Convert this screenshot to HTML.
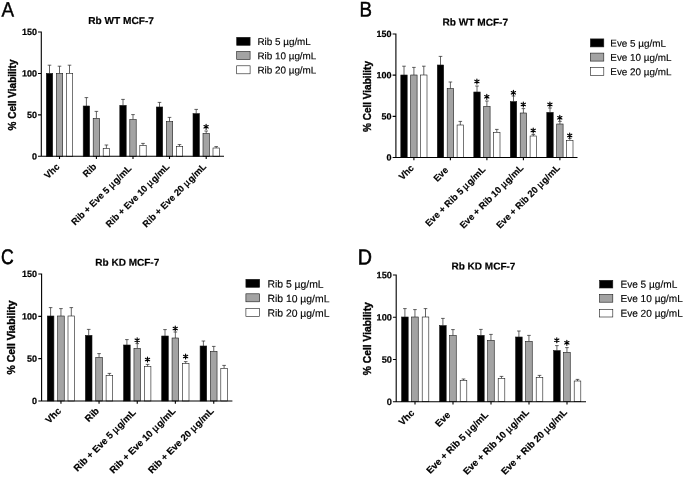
<!DOCTYPE html>
<html><head><meta charset="utf-8"><title>Cell viability</title>
<style>html,body{margin:0;padding:0;background:#fff}svg{display:block;will-change:transform;filter:grayscale(1)}text{font-family:"Liberation Sans",sans-serif;fill:#000}.b{font-weight:bold}.y{stroke:#000;stroke-width:0.35px}.t{stroke:#000;stroke-width:0.2px}.l{stroke:#000;stroke-width:0.15px}.x{stroke:#000;stroke-width:0.18px}</style></head><body>
<svg width="685" height="480" viewBox="0 0 685 480">
<g>
<text font-size="20.7" stroke="#000" stroke-width="0.4" transform="translate(1.6 16.62) rotate(0.1) scale(0.91 1)">A</text>
<text class="b t" font-size="10.1" text-anchor="middle" transform="translate(121.1 24.1) rotate(0.1)">Rb WT MCF-7</text>
<text class="b y" font-size="10" text-anchor="middle" transform="translate(16 95) rotate(-90)">% Cell Viability</text>
<path d="M49.5 73.4V65.2M47.7 65.2H51.3" stroke="#222" stroke-width="0.7" fill="none"/>
<rect x="46.3" y="73.4" width="6.4" height="82.9" fill="#000000" stroke="#1a1a1a" stroke-width="0.6"/>
<path d="M59.5 73.4V66.2M57.7 66.2H61.3" stroke="#222" stroke-width="0.7" fill="none"/>
<rect x="56.3" y="73.4" width="6.4" height="82.9" fill="#a3a3a3" stroke="#1a1a1a" stroke-width="0.6"/>
<path d="M69.5 73.4V65.2M67.7 65.2H71.3" stroke="#222" stroke-width="0.7" fill="none"/>
<rect x="66.3" y="73.4" width="6.4" height="82.9" fill="#ffffff" stroke="#1a1a1a" stroke-width="0.6"/>
<path d="M86.4 106V97.6M84.6 97.6H88.2" stroke="#222" stroke-width="0.7" fill="none"/>
<rect x="83.2" y="106" width="6.4" height="50.3" fill="#000000" stroke="#1a1a1a" stroke-width="0.6"/>
<path d="M96.4 118.4V111.4M94.6 111.4H98.2" stroke="#222" stroke-width="0.7" fill="none"/>
<rect x="93.2" y="118.4" width="6.4" height="37.9" fill="#a3a3a3" stroke="#1a1a1a" stroke-width="0.6"/>
<path d="M106.4 148.6V145M104.6 145H108.2" stroke="#222" stroke-width="0.7" fill="none"/>
<rect x="103.2" y="148.6" width="6.4" height="7.7" fill="#ffffff" stroke="#1a1a1a" stroke-width="0.6"/>
<path d="M123 105.4V99.4M121.2 99.4H124.8" stroke="#222" stroke-width="0.7" fill="none"/>
<rect x="119.8" y="105.4" width="6.4" height="50.9" fill="#000000" stroke="#1a1a1a" stroke-width="0.6"/>
<path d="M133 119.6V114.6M131.2 114.6H134.8" stroke="#222" stroke-width="0.7" fill="none"/>
<rect x="129.8" y="119.6" width="6.4" height="36.7" fill="#a3a3a3" stroke="#1a1a1a" stroke-width="0.6"/>
<path d="M143 145.6V143.4M141.2 143.4H144.8" stroke="#222" stroke-width="0.7" fill="none"/>
<rect x="139.8" y="145.6" width="6.4" height="10.7" fill="#ffffff" stroke="#1a1a1a" stroke-width="0.6"/>
<path d="M159.5 107V102.4M157.7 102.4H161.3" stroke="#222" stroke-width="0.7" fill="none"/>
<rect x="156.3" y="107" width="6.4" height="49.3" fill="#000000" stroke="#1a1a1a" stroke-width="0.6"/>
<path d="M169.5 121.6V117.4M167.7 117.4H171.3" stroke="#222" stroke-width="0.7" fill="none"/>
<rect x="166.3" y="121.6" width="6.4" height="34.7" fill="#a3a3a3" stroke="#1a1a1a" stroke-width="0.6"/>
<path d="M179.5 146.4V144.6M177.7 144.6H181.3" stroke="#222" stroke-width="0.7" fill="none"/>
<rect x="176.3" y="146.4" width="6.4" height="9.9" fill="#ffffff" stroke="#1a1a1a" stroke-width="0.6"/>
<path d="M196.2 113.6V109.4M194.4 109.4H198" stroke="#222" stroke-width="0.7" fill="none"/>
<rect x="193" y="113.6" width="6.4" height="42.7" fill="#000000" stroke="#1a1a1a" stroke-width="0.6"/>
<path d="M206.2 133.4V131M204.4 131H208" stroke="#222" stroke-width="0.7" fill="none"/>
<rect x="203" y="133.4" width="6.4" height="22.9" fill="#a3a3a3" stroke="#1a1a1a" stroke-width="0.6"/>
<path d="M206.1 124.4L206.1 129.3M208.22 125.62L203.98 128.07M208.22 128.07L203.98 125.62" stroke="#000" stroke-width="1.15" stroke-linecap="round" fill="none"/>
<path d="M216.2 148V146.6M214.4 146.6H218" stroke="#222" stroke-width="0.7" fill="none"/>
<rect x="213" y="148" width="6.4" height="8.3" fill="#ffffff" stroke="#1a1a1a" stroke-width="0.6"/>
<path d="M41.3 31.5V156.3H224M41.3 156.3H38M41.3 114.87H38M41.3 73.43H38M41.3 32H38M59.5 156.3V159.1M96.4 156.3V159.1M133 156.3V159.1M169.5 156.3V159.1M206.2 156.3V159.1" stroke="#000" stroke-width="1.1" fill="none"/>
<text class="b t" font-size="9" text-anchor="end" transform="translate(37 159.43) rotate(0.1)">0</text>
<text class="b t" font-size="9" text-anchor="end" transform="translate(37 118) rotate(0.1)">50</text>
<text class="b t" font-size="9" text-anchor="end" transform="translate(37 76.57) rotate(0.1)">100</text>
<text class="b t" font-size="9" text-anchor="end" transform="translate(37 35.13) rotate(0.1)">150</text>
<text class="b x" font-size="9.25" text-anchor="end" transform="translate(60.1 167.3) rotate(-45)">Vhc</text>
<text class="b x" font-size="9.25" text-anchor="end" transform="translate(97 167.3) rotate(-45)">Rib</text>
<text class="b x" font-size="9.25" text-anchor="end" word-spacing="0" transform="translate(132 168.9) rotate(-45)">Rib + Eve 5 <tspan dx="0" font-weight="normal" stroke="#000" stroke-width="0.35">µ</tspan><tspan dx="0.9">g/mL</tspan></text>
<text class="b x" font-size="9.25" text-anchor="end" word-spacing="0" transform="translate(170.1 167.3) rotate(-45)">Rib + Eve 10 <tspan dx="0" font-weight="normal" stroke="#000" stroke-width="0.35">µ</tspan><tspan dx="0.9">g/mL</tspan></text>
<text class="b x" font-size="9.25" text-anchor="end" word-spacing="0" transform="translate(206.8 167.3) rotate(-45)">Rib + Eve 20 <tspan dx="0" font-weight="normal" stroke="#000" stroke-width="0.35">µ</tspan><tspan dx="0.9">g/mL</tspan></text>
<rect x="236.7" y="37.3" width="13.4" height="8" fill="#000000" stroke="#1a1a1a" stroke-width="0.6"/>
<text class="l" font-size="9.9" transform="translate(257.4 45.01) rotate(0.1)">Rib 5 µg/mL</text>
<rect x="236.7" y="51.5" width="13.4" height="8" fill="#a3a3a3" stroke="#1a1a1a" stroke-width="0.6"/>
<text class="l" font-size="9.9" transform="translate(257.4 59.21) rotate(0.1)">Rib 10 µg/mL</text>
<rect x="236.7" y="65.8" width="13.4" height="8" fill="#ffffff" stroke="#1a1a1a" stroke-width="0.6"/>
<text class="l" font-size="9.9" transform="translate(257.4 73.51) rotate(0.1)">Rib 20 µg/mL</text>
</g>
<g>
<text font-size="21.24" stroke="#000" stroke-width="0.5" transform="translate(359.51 16.59) rotate(0.1) scale(0.88 1)">B</text>
<text class="b t" font-size="10.1" text-anchor="middle" transform="translate(475.3 25.65) rotate(0.1)">Rb WT MCF-7</text>
<text class="b y" font-size="10" text-anchor="middle" transform="translate(370.6 96.5) rotate(-90)">% Cell Viability</text>
<path d="M404 75V66.2M402.2 66.2H405.8" stroke="#222" stroke-width="0.7" fill="none"/>
<rect x="400.8" y="75" width="6.4" height="82.5" fill="#000000" stroke="#1a1a1a" stroke-width="0.6"/>
<path d="M413.9 75V67.4M412.1 67.4H415.7" stroke="#222" stroke-width="0.7" fill="none"/>
<rect x="410.7" y="75" width="6.4" height="82.5" fill="#a3a3a3" stroke="#1a1a1a" stroke-width="0.6"/>
<path d="M423.8 75V66.2M422 66.2H425.6" stroke="#222" stroke-width="0.7" fill="none"/>
<rect x="420.6" y="75" width="6.4" height="82.5" fill="#ffffff" stroke="#1a1a1a" stroke-width="0.6"/>
<path d="M440.5 65V56.4M438.7 56.4H442.3" stroke="#222" stroke-width="0.7" fill="none"/>
<rect x="437.3" y="65" width="6.4" height="92.5" fill="#000000" stroke="#1a1a1a" stroke-width="0.6"/>
<path d="M450.4 88.6V82M448.6 82H452.2" stroke="#222" stroke-width="0.7" fill="none"/>
<rect x="447.2" y="88.6" width="6.4" height="68.9" fill="#a3a3a3" stroke="#1a1a1a" stroke-width="0.6"/>
<path d="M460.3 125V121.4M458.5 121.4H462.1" stroke="#222" stroke-width="0.7" fill="none"/>
<rect x="457.1" y="125" width="6.4" height="32.5" fill="#ffffff" stroke="#1a1a1a" stroke-width="0.6"/>
<path d="M477 92V86M475.2 86H478.8" stroke="#222" stroke-width="0.7" fill="none"/>
<rect x="473.8" y="92" width="6.4" height="65.5" fill="#000000" stroke="#1a1a1a" stroke-width="0.6"/>
<path d="M476.9 79L476.9 83.9M479.02 80.22L474.78 82.67M479.02 82.67L474.78 80.22" stroke="#000" stroke-width="1.15" stroke-linecap="round" fill="none"/>
<path d="M486.9 106.4V101M485.1 101H488.7" stroke="#222" stroke-width="0.7" fill="none"/>
<rect x="483.7" y="106.4" width="6.4" height="51.1" fill="#a3a3a3" stroke="#1a1a1a" stroke-width="0.6"/>
<path d="M486.8 94.4L486.8 99.3M488.92 95.62L484.68 98.07M488.92 98.07L484.68 95.62" stroke="#000" stroke-width="1.15" stroke-linecap="round" fill="none"/>
<path d="M496.8 132.4V129.4M495 129.4H498.6" stroke="#222" stroke-width="0.7" fill="none"/>
<rect x="493.6" y="132.4" width="6.4" height="25.1" fill="#ffffff" stroke="#1a1a1a" stroke-width="0.6"/>
<path d="M513.5 101.6V96M511.7 96H515.3" stroke="#222" stroke-width="0.7" fill="none"/>
<rect x="510.3" y="101.6" width="6.4" height="55.9" fill="#000000" stroke="#1a1a1a" stroke-width="0.6"/>
<path d="M513.4 90.4L513.4 95.3M515.52 91.62L511.28 94.07M515.52 94.07L511.28 91.62" stroke="#000" stroke-width="1.15" stroke-linecap="round" fill="none"/>
<path d="M523.4 113V108.6M521.6 108.6H525.2" stroke="#222" stroke-width="0.7" fill="none"/>
<rect x="520.2" y="113" width="6.4" height="44.5" fill="#a3a3a3" stroke="#1a1a1a" stroke-width="0.6"/>
<path d="M523.3 102L523.3 106.9M525.42 103.22L521.18 105.67M525.42 105.67L521.18 103.22" stroke="#000" stroke-width="1.15" stroke-linecap="round" fill="none"/>
<path d="M533.3 136V134.4M531.5 134.4H535.1" stroke="#222" stroke-width="0.7" fill="none"/>
<rect x="530.1" y="136" width="6.4" height="21.5" fill="#ffffff" stroke="#1a1a1a" stroke-width="0.6"/>
<path d="M533.2 128L533.2 132.9M535.32 129.22L531.08 131.67M535.32 131.67L531.08 129.22" stroke="#000" stroke-width="1.15" stroke-linecap="round" fill="none"/>
<path d="M550 112.4V108M548.2 108H551.8" stroke="#222" stroke-width="0.7" fill="none"/>
<rect x="546.8" y="112.4" width="6.4" height="45.1" fill="#000000" stroke="#1a1a1a" stroke-width="0.6"/>
<path d="M549.9 102L549.9 106.9M552.02 103.22L547.78 105.67M552.02 105.67L547.78 103.22" stroke="#000" stroke-width="1.15" stroke-linecap="round" fill="none"/>
<path d="M559.9 124V121.4M558.1 121.4H561.7" stroke="#222" stroke-width="0.7" fill="none"/>
<rect x="556.7" y="124" width="6.4" height="33.5" fill="#a3a3a3" stroke="#1a1a1a" stroke-width="0.6"/>
<path d="M559.8 115.4L559.8 120.3M561.92 116.62L557.68 119.07M561.92 119.07L557.68 116.62" stroke="#000" stroke-width="1.15" stroke-linecap="round" fill="none"/>
<path d="M569.8 140.4V138.4M568 138.4H571.6" stroke="#222" stroke-width="0.7" fill="none"/>
<rect x="566.6" y="140.4" width="6.4" height="17.1" fill="#ffffff" stroke="#1a1a1a" stroke-width="0.6"/>
<path d="M569.7 133L569.7 137.9M571.82 134.22L567.58 136.67M571.82 136.67L567.58 134.22" stroke="#000" stroke-width="1.15" stroke-linecap="round" fill="none"/>
<path d="M395.9 33.5V157.5H577.5M395.9 157.5H392.6M395.9 116.33H392.6M395.9 75.17H392.6M395.9 34H392.6M413.9 157.5V160.3M450.4 157.5V160.3M486.9 157.5V160.3M523.4 157.5V160.3M559.9 157.5V160.3" stroke="#000" stroke-width="1.1" fill="none"/>
<text class="b t" font-size="9" text-anchor="end" transform="translate(391.6 160.63) rotate(0.1)">0</text>
<text class="b t" font-size="9" text-anchor="end" transform="translate(391.6 119.47) rotate(0.1)">50</text>
<text class="b t" font-size="9" text-anchor="end" transform="translate(391.6 78.3) rotate(0.1)">100</text>
<text class="b t" font-size="9" text-anchor="end" transform="translate(391.6 37.13) rotate(0.1)">150</text>
<text class="b x" font-size="9.25" text-anchor="end" transform="translate(414.5 168.5) rotate(-45)">Vhc</text>
<text class="b x" font-size="9.25" text-anchor="end" transform="translate(448.8 170.7) rotate(-45)">Eve</text>
<text class="b x" font-size="9.25" text-anchor="end" word-spacing="0" transform="translate(485.9 170.1) rotate(-45)">Eve + Rib 5 <tspan dx="0" font-weight="normal" stroke="#000" stroke-width="0.35">µ</tspan><tspan dx="0.9">g/mL</tspan></text>
<text class="b x" font-size="9.25" text-anchor="end" word-spacing="0" transform="translate(524 168.5) rotate(-45)">Eve + Rib 10 <tspan dx="0" font-weight="normal" stroke="#000" stroke-width="0.35">µ</tspan><tspan dx="0.9">g/mL</tspan></text>
<text class="b x" font-size="9.25" text-anchor="end" word-spacing="0" transform="translate(560.5 168.5) rotate(-45)">Eve + Rib 20 <tspan dx="0" font-weight="normal" stroke="#000" stroke-width="0.35">µ</tspan><tspan dx="0.9">g/mL</tspan></text>
<rect x="590.4" y="38.9" width="13.4" height="8" fill="#000000" stroke="#1a1a1a" stroke-width="0.6"/>
<text class="l" font-size="9.9" transform="translate(610.3 46.61) rotate(0.1)">Eve 5 µg/mL</text>
<rect x="590.4" y="53.1" width="13.4" height="8" fill="#a3a3a3" stroke="#1a1a1a" stroke-width="0.6"/>
<text class="l" font-size="9.9" transform="translate(610.3 60.81) rotate(0.1)">Eve 10 µg/mL</text>
<rect x="590.4" y="67.4" width="13.4" height="8" fill="#ffffff" stroke="#1a1a1a" stroke-width="0.6"/>
<text class="l" font-size="9.9" transform="translate(610.3 75.11) rotate(0.1)">Eve 20 µg/mL</text>
</g>
<g>
<text font-size="21.2" stroke="#000" stroke-width="0.6" transform="translate(1.05 263.95) rotate(0.1) scale(0.83 1)">C</text>
<text class="b t" font-size="10" text-anchor="middle" transform="translate(127.25 265.8) rotate(0.1)">Rb KD MCF-7</text>
<text class="b y" font-size="10.45" text-anchor="middle" transform="translate(14.8 337.5) rotate(-90)">% Cell Viability</text>
<path d="M50.6 316V307.6M48.8 307.6H52.4" stroke="#222" stroke-width="0.7" fill="none"/>
<rect x="47.3" y="316" width="6.6" height="85" fill="#000000" stroke="#1a1a1a" stroke-width="0.6"/>
<path d="M60.95 316V308.6M59.15 308.6H62.75" stroke="#222" stroke-width="0.7" fill="none"/>
<rect x="57.65" y="316" width="6.6" height="85" fill="#a3a3a3" stroke="#1a1a1a" stroke-width="0.6"/>
<path d="M71.3 316V307.6M69.5 307.6H73.1" stroke="#222" stroke-width="0.7" fill="none"/>
<rect x="68" y="316" width="6.6" height="85" fill="#ffffff" stroke="#1a1a1a" stroke-width="0.6"/>
<path d="M88.7 335.4V329.4M86.9 329.4H90.5" stroke="#222" stroke-width="0.7" fill="none"/>
<rect x="85.4" y="335.4" width="6.6" height="65.6" fill="#000000" stroke="#1a1a1a" stroke-width="0.6"/>
<path d="M99.05 357.4V353.6M97.25 353.6H100.85" stroke="#222" stroke-width="0.7" fill="none"/>
<rect x="95.75" y="357.4" width="6.6" height="43.6" fill="#a3a3a3" stroke="#1a1a1a" stroke-width="0.6"/>
<path d="M109.4 375.4V373.4M107.6 373.4H111.2" stroke="#222" stroke-width="0.7" fill="none"/>
<rect x="106.1" y="375.4" width="6.6" height="25.6" fill="#ffffff" stroke="#1a1a1a" stroke-width="0.6"/>
<path d="M126.9 345V339.6M125.1 339.6H128.7" stroke="#222" stroke-width="0.7" fill="none"/>
<rect x="123.6" y="345" width="6.6" height="56" fill="#000000" stroke="#1a1a1a" stroke-width="0.6"/>
<path d="M137.25 348.4V343.6M135.45 343.6H139.05" stroke="#222" stroke-width="0.7" fill="none"/>
<rect x="133.95" y="348.4" width="6.6" height="52.6" fill="#a3a3a3" stroke="#1a1a1a" stroke-width="0.6"/>
<path d="M137.15 337.8L137.15 342.7M139.27 339.02L135.03 341.48M139.27 341.48L135.03 339.02" stroke="#000" stroke-width="1.15" stroke-linecap="round" fill="none"/>
<path d="M147.6 366.6V364.4M145.8 364.4H149.4" stroke="#222" stroke-width="0.7" fill="none"/>
<rect x="144.3" y="366.6" width="6.6" height="34.4" fill="#ffffff" stroke="#1a1a1a" stroke-width="0.6"/>
<path d="M147.5 357L147.5 361.9M149.62 358.23L145.38 360.68M149.62 360.68L145.38 358.23" stroke="#000" stroke-width="1.15" stroke-linecap="round" fill="none"/>
<path d="M165 336V329.6M163.2 329.6H166.8" stroke="#222" stroke-width="0.7" fill="none"/>
<rect x="161.7" y="336" width="6.6" height="65" fill="#000000" stroke="#1a1a1a" stroke-width="0.6"/>
<path d="M175.35 338V332M173.55 332H177.15" stroke="#222" stroke-width="0.7" fill="none"/>
<rect x="172.05" y="338" width="6.6" height="63" fill="#a3a3a3" stroke="#1a1a1a" stroke-width="0.6"/>
<path d="M175.25 326L175.25 330.9M177.37 327.23L173.13 329.68M177.37 329.68L173.13 327.23" stroke="#000" stroke-width="1.15" stroke-linecap="round" fill="none"/>
<path d="M185.7 363.6V361.6M183.9 361.6H187.5" stroke="#222" stroke-width="0.7" fill="none"/>
<rect x="182.4" y="363.6" width="6.6" height="37.4" fill="#ffffff" stroke="#1a1a1a" stroke-width="0.6"/>
<path d="M185.6 354L185.6 358.9M187.72 355.23L183.48 357.68M187.72 357.68L183.48 355.23" stroke="#000" stroke-width="1.15" stroke-linecap="round" fill="none"/>
<path d="M203.4 346V341M201.6 341H205.2" stroke="#222" stroke-width="0.7" fill="none"/>
<rect x="200.1" y="346" width="6.6" height="55" fill="#000000" stroke="#1a1a1a" stroke-width="0.6"/>
<path d="M213.75 351.4V346.4M211.95 346.4H215.55" stroke="#222" stroke-width="0.7" fill="none"/>
<rect x="210.45" y="351.4" width="6.6" height="49.6" fill="#a3a3a3" stroke="#1a1a1a" stroke-width="0.6"/>
<path d="M224.1 368.4V365.4M222.3 365.4H225.9" stroke="#222" stroke-width="0.7" fill="none"/>
<rect x="220.8" y="368.4" width="6.6" height="32.6" fill="#ffffff" stroke="#1a1a1a" stroke-width="0.6"/>
<path d="M41.6 273.5V401H232.4M41.6 401H38.3M41.6 358.67H38.3M41.6 316.33H38.3M41.6 274H38.3M60.95 401V403.8M99.05 401V403.8M137.25 401V403.8M175.35 401V403.8M213.75 401V403.8" stroke="#000" stroke-width="1.1" fill="none"/>
<text class="b t" font-size="9" text-anchor="end" transform="translate(37 404.13) rotate(0.1)">0</text>
<text class="b t" font-size="9" text-anchor="end" transform="translate(37 361.8) rotate(0.1)">50</text>
<text class="b t" font-size="9" text-anchor="end" transform="translate(37 319.47) rotate(0.1)">100</text>
<text class="b t" font-size="9" text-anchor="end" transform="translate(37 277.13) rotate(0.1)">150</text>
<text class="b x" font-size="9.55" text-anchor="end" transform="translate(61.65 411.6) rotate(-45)">Vhc</text>
<text class="b x" font-size="9.55" text-anchor="end" transform="translate(99.75 411.6) rotate(-45)">Rib</text>
<text class="b x" font-size="9.55" text-anchor="end" word-spacing="0" transform="translate(136.35 413.2) rotate(-45)">Rib + Eve 5 <tspan dx="0" font-weight="normal" stroke="#000" stroke-width="0.35">µ</tspan><tspan dx="0.9">g/mL</tspan></text>
<text class="b x" font-size="9.55" text-anchor="end" word-spacing="0" transform="translate(176.05 411.6) rotate(-45)">Rib + Eve 10 <tspan dx="0" font-weight="normal" stroke="#000" stroke-width="0.35">µ</tspan><tspan dx="0.9">g/mL</tspan></text>
<text class="b x" font-size="9.55" text-anchor="end" word-spacing="0" transform="translate(214.45 411.6) rotate(-45)">Rib + Eve 20 <tspan dx="0" font-weight="normal" stroke="#000" stroke-width="0.35">µ</tspan><tspan dx="0.9">g/mL</tspan></text>
<rect x="245.9" y="279.3" width="13.8" height="8" fill="#000000" stroke="#1a1a1a" stroke-width="0.6"/>
<text class="l" font-size="10.4" transform="translate(267.4 287.59) rotate(0.1)">Rib 5 µg/mL</text>
<rect x="245.9" y="293.8" width="13.8" height="8" fill="#a3a3a3" stroke="#1a1a1a" stroke-width="0.6"/>
<text class="l" font-size="10.4" transform="translate(267.4 302.09) rotate(0.1)">Rib 10 µg/mL</text>
<rect x="245.9" y="308.3" width="13.8" height="8" fill="#ffffff" stroke="#1a1a1a" stroke-width="0.6"/>
<text class="l" font-size="10.4" transform="translate(267.4 316.59) rotate(0.1)">Rib 20 µg/mL</text>
</g>
<g>
<text font-size="21.85" stroke="#000" stroke-width="0.6" transform="translate(357.64 264.54) rotate(0.1) scale(0.9 1)">D</text>
<text class="b t" font-size="10" text-anchor="middle" transform="translate(483.45 269.6) rotate(0.1)">Rb KD MCF-7</text>
<text class="b y" font-size="10.3" text-anchor="middle" transform="translate(370.5 338.7) rotate(-90)">% Cell Viability</text>
<path d="M404.9 317V308.6M403.1 308.6H406.7" stroke="#222" stroke-width="0.7" fill="none"/>
<rect x="401.6" y="317" width="6.6" height="84.7" fill="#000000" stroke="#1a1a1a" stroke-width="0.6"/>
<path d="M414.95 317V309.6M413.15 309.6H416.75" stroke="#222" stroke-width="0.7" fill="none"/>
<rect x="411.65" y="317" width="6.6" height="84.7" fill="#a3a3a3" stroke="#1a1a1a" stroke-width="0.6"/>
<path d="M425.5 317V308.6M423.7 308.6H427.3" stroke="#222" stroke-width="0.7" fill="none"/>
<rect x="422.2" y="317" width="6.6" height="84.7" fill="#ffffff" stroke="#1a1a1a" stroke-width="0.6"/>
<path d="M442.9 325.6V318.4M441.1 318.4H444.7" stroke="#222" stroke-width="0.7" fill="none"/>
<rect x="439.6" y="325.6" width="6.6" height="76.1" fill="#000000" stroke="#1a1a1a" stroke-width="0.6"/>
<path d="M452.95 335.6V329.6M451.15 329.6H454.75" stroke="#222" stroke-width="0.7" fill="none"/>
<rect x="449.65" y="335.6" width="6.6" height="66.1" fill="#a3a3a3" stroke="#1a1a1a" stroke-width="0.6"/>
<path d="M463.5 380.4V379M461.7 379H465.3" stroke="#222" stroke-width="0.7" fill="none"/>
<rect x="460.2" y="380.4" width="6.6" height="21.3" fill="#ffffff" stroke="#1a1a1a" stroke-width="0.6"/>
<path d="M480.9 335.4V329.4M479.1 329.4H482.7" stroke="#222" stroke-width="0.7" fill="none"/>
<rect x="477.6" y="335.4" width="6.6" height="66.3" fill="#000000" stroke="#1a1a1a" stroke-width="0.6"/>
<path d="M490.95 340.4V334.4M489.15 334.4H492.75" stroke="#222" stroke-width="0.7" fill="none"/>
<rect x="487.65" y="340.4" width="6.6" height="61.3" fill="#a3a3a3" stroke="#1a1a1a" stroke-width="0.6"/>
<path d="M501.5 378.4V376.4M499.7 376.4H503.3" stroke="#222" stroke-width="0.7" fill="none"/>
<rect x="498.2" y="378.4" width="6.6" height="23.3" fill="#ffffff" stroke="#1a1a1a" stroke-width="0.6"/>
<path d="M518.9 337V331M517.1 331H520.7" stroke="#222" stroke-width="0.7" fill="none"/>
<rect x="515.6" y="337" width="6.6" height="64.7" fill="#000000" stroke="#1a1a1a" stroke-width="0.6"/>
<path d="M528.95 341.4V335.4M527.15 335.4H530.75" stroke="#222" stroke-width="0.7" fill="none"/>
<rect x="525.65" y="341.4" width="6.6" height="60.3" fill="#a3a3a3" stroke="#1a1a1a" stroke-width="0.6"/>
<path d="M539.5 377.4V375.4M537.7 375.4H541.3" stroke="#222" stroke-width="0.7" fill="none"/>
<rect x="536.2" y="377.4" width="6.6" height="24.3" fill="#ffffff" stroke="#1a1a1a" stroke-width="0.6"/>
<path d="M556.9 350.6V345.6M555.1 345.6H558.7" stroke="#222" stroke-width="0.7" fill="none"/>
<rect x="553.6" y="350.6" width="6.6" height="51.1" fill="#000000" stroke="#1a1a1a" stroke-width="0.6"/>
<path d="M556.8 337.8L556.8 342.7M558.92 339.02L554.68 341.48M558.92 341.48L554.68 339.02" stroke="#000" stroke-width="1.15" stroke-linecap="round" fill="none"/>
<path d="M566.95 352.4V347.6M565.15 347.6H568.75" stroke="#222" stroke-width="0.7" fill="none"/>
<rect x="563.65" y="352.4" width="6.6" height="49.3" fill="#a3a3a3" stroke="#1a1a1a" stroke-width="0.6"/>
<path d="M566.85 340.4L566.85 345.3M568.97 341.62L564.73 344.08M568.97 344.08L564.73 341.62" stroke="#000" stroke-width="1.15" stroke-linecap="round" fill="none"/>
<path d="M577.5 381V379.4M575.7 379.4H579.3" stroke="#222" stroke-width="0.7" fill="none"/>
<rect x="574.2" y="381" width="6.6" height="20.7" fill="#ffffff" stroke="#1a1a1a" stroke-width="0.6"/>
<path d="M396.2 274.5V401.7H586M396.2 401.7H392.9M396.2 359.47H392.9M396.2 317.23H392.9M396.2 275H392.9M415 401.7V404.5M453 401.7V404.5M491 401.7V404.5M529 401.7V404.5M567 401.7V404.5" stroke="#000" stroke-width="1.1" fill="none"/>
<text class="b t" font-size="9.2" text-anchor="end" transform="translate(391.9 404.9) rotate(0.1)">0</text>
<text class="b t" font-size="9.2" text-anchor="end" transform="translate(391.9 362.67) rotate(0.1)">50</text>
<text class="b t" font-size="9.2" text-anchor="end" transform="translate(391.9 320.43) rotate(0.1)">100</text>
<text class="b t" font-size="9.2" text-anchor="end" transform="translate(391.9 278.2) rotate(0.1)">150</text>
<text class="b x" font-size="9.55" text-anchor="end" transform="translate(414.9 413.5) rotate(-45)">Vhc</text>
<text class="b x" font-size="9.55" text-anchor="end" transform="translate(450.9 415.5) rotate(-45)">Eve</text>
<text class="b x" font-size="9.55" text-anchor="end" word-spacing="0" transform="translate(489 415.4) rotate(-45)">Eve + Rib 5 <tspan dx="0" font-weight="normal" stroke="#000" stroke-width="0.35">µ</tspan><tspan dx="0.9">g/mL</tspan></text>
<text class="b x" font-size="9.55" text-anchor="end" word-spacing="0" transform="translate(529.6 412.8) rotate(-45)">Eve + Rib 10 <tspan dx="0" font-weight="normal" stroke="#000" stroke-width="0.35">µ</tspan><tspan dx="0.9">g/mL</tspan></text>
<text class="b x" font-size="9.55" text-anchor="end" word-spacing="0" transform="translate(567.6 412.8) rotate(-45)">Eve + Rib 20 <tspan dx="0" font-weight="normal" stroke="#000" stroke-width="0.35">µ</tspan><tspan dx="0.9">g/mL</tspan></text>
<rect x="599.6" y="280.3" width="13.2" height="7.7" fill="#000000" stroke="#1a1a1a" stroke-width="0.6"/>
<text class="l" font-size="10.1" transform="translate(620.4 287.74) rotate(0.1)">Eve 5 µg/mL</text>
<rect x="599.6" y="294.5" width="13.2" height="7.7" fill="#a3a3a3" stroke="#1a1a1a" stroke-width="0.6"/>
<text class="l" font-size="10.1" transform="translate(620.4 301.94) rotate(0.1)">Eve 10 µg/mL</text>
<rect x="599.6" y="309.3" width="13.2" height="7.7" fill="#ffffff" stroke="#1a1a1a" stroke-width="0.6"/>
<text class="l" font-size="10.1" transform="translate(620.4 316.74) rotate(0.1)">Eve 20 µg/mL</text>
</g>
</svg></body></html>
